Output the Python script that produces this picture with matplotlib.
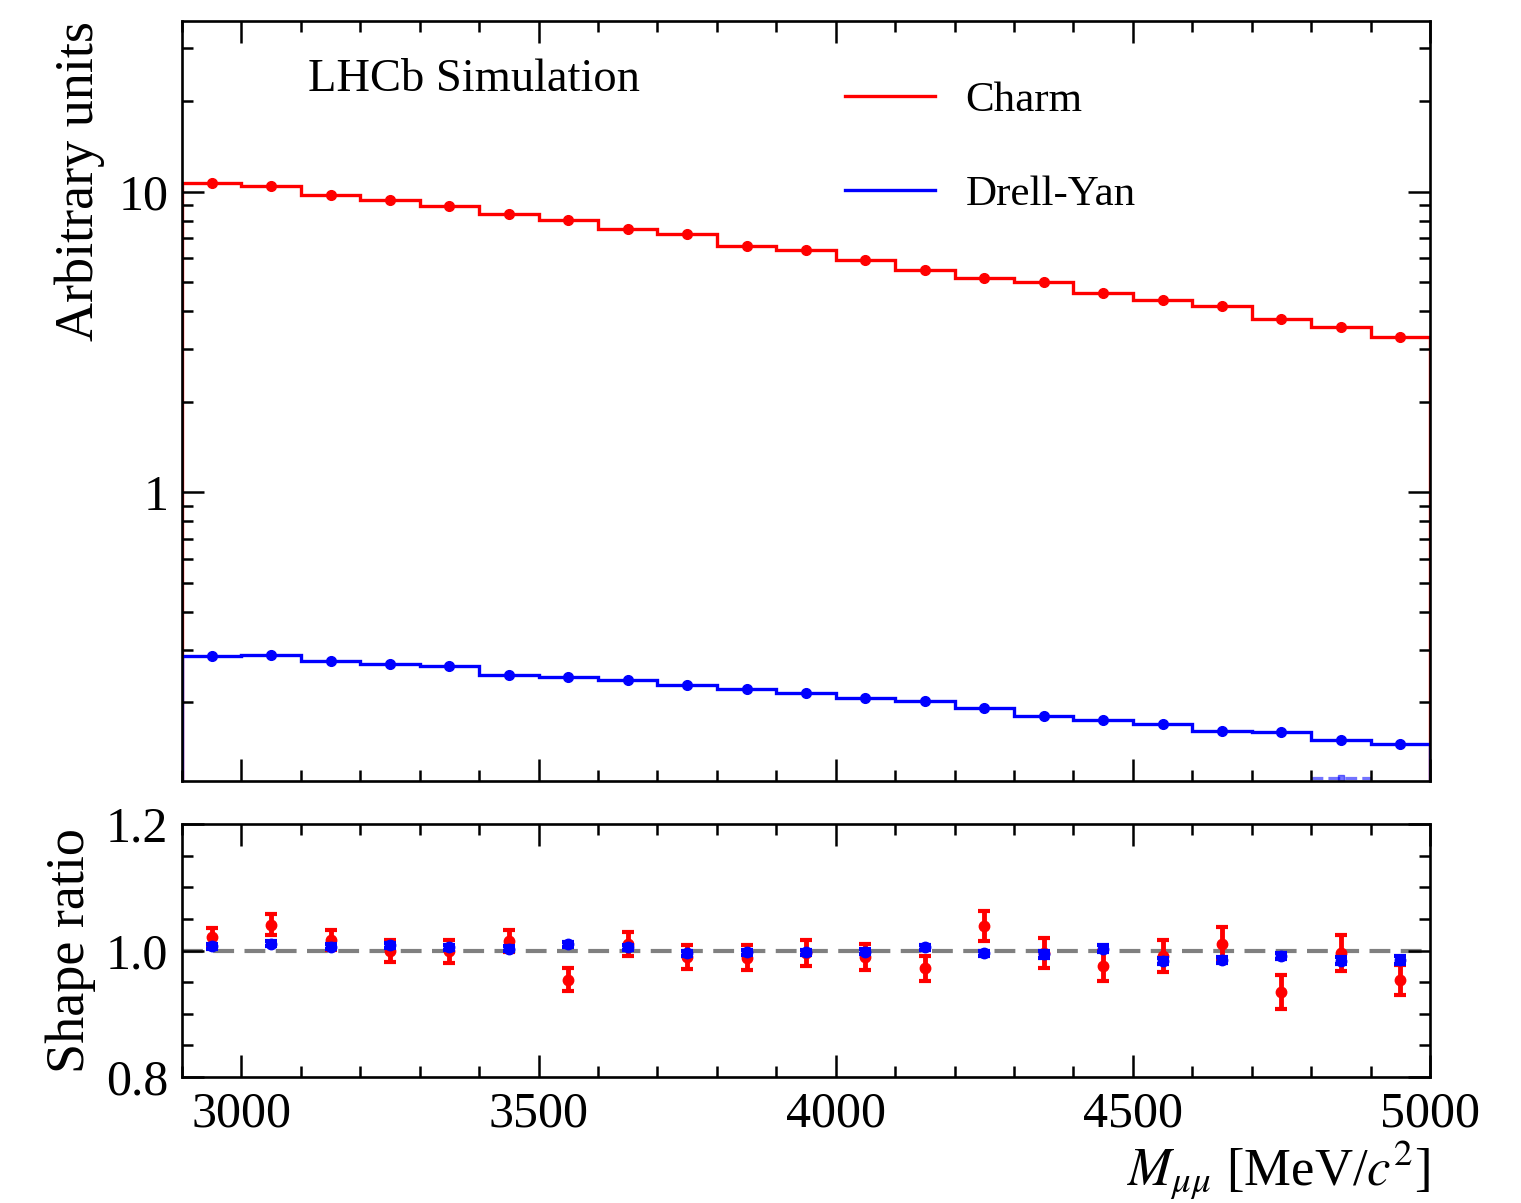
import numpy as np
import matplotlib
matplotlib.use("Agg")
import matplotlib.pyplot as plt
from matplotlib.ticker import MultipleLocator, LogLocator, FuncFormatter, NullFormatter, FixedLocator
from matplotlib.lines import Line2D

plt.rcParams['font.family'] = ['Liberation Serif', 'DejaVu Serif']
plt.rcParams['mathtext.fontset'] = 'stix'
plt.rcParams['font.size'] = 36

# bins in M_mumu [MeV/c^2]
bin_edges = np.arange(2900, 5100, 100)
bin_centres = 0.5 * (bin_edges[1:] + bin_edges[:-1])

# normalised shapes (top panel)
charm = [10.71, 10.45, 9.76, 9.36, 8.98, 8.41, 8.05, 7.50, 7.25, 6.60, 6.40,
         5.93, 5.50, 5.18, 5.01, 4.59, 4.36, 4.18, 3.76, 3.54, 3.29]
drell_yan = [0.2847, 0.2875, 0.2754, 0.2684, 0.2644, 0.2461, 0.2429, 0.2374,
             0.2280, 0.2212, 0.2155, 0.2064, 0.2026, 0.1920, 0.1806, 0.1748,
             0.1699, 0.1610, 0.1590, 0.1500, 0.1450]
# faint dashed curve that only pokes above the axis floor in one bin
dy_alt_edges = [4800, 4900]
dy_alt = [0.1125]

# shape ratios (bottom panel)
ratio_charm = [1.021, 1.041, 1.017, 0.999, 0.999, 1.015, 0.954, 1.011, 0.990,
               0.989, 0.996, 0.990, 0.972, 1.039, 0.996, 0.976, 0.991, 1.011,
               0.934, 0.996, 0.953]
err_charm = [0.015, 0.016, 0.016, 0.017, 0.018, 0.018, 0.018, 0.019, 0.019,
             0.020, 0.020, 0.021, 0.020, 0.024, 0.024, 0.024, 0.025, 0.026,
             0.027, 0.028, 0.024]
ratio_dy = [1.007, 1.011, 1.006, 1.008, 1.005, 1.003, 1.010, 1.005, 0.996,
            0.997, 0.997, 0.998, 1.005, 0.996, 0.994, 1.003, 0.983, 0.985,
            0.991, 0.984, 0.985]
err_dy = [0.004, 0.004, 0.004, 0.004, 0.004, 0.004, 0.004, 0.004, 0.004,
          0.004, 0.004, 0.004, 0.004, 0.004, 0.005, 0.005, 0.005, 0.005,
          0.005, 0.006, 0.006]

fig = plt.figure(figsize=(15.21, 12.03), dpi=100)
ax = fig.add_axes([0.1197, 0.3508, 0.8205, 0.6318])
ax2 = fig.add_axes([0.1197, 0.1047, 0.8205, 0.2103])

# top panel
ax.stairs(charm, bin_edges, color='red', lw=2.4, baseline=1e-3)
ax.plot(bin_centres, charm, 'o', color='red', ms=7)
ax.stairs(drell_yan, bin_edges, color='blue', lw=2.4, baseline=1e-3)
ax.plot(bin_centres, drell_yan, 'o', color='blue', ms=7)
ax.stairs(dy_alt, dy_alt_edges, color='blue', lw=2.3, ls='--', alpha=0.55, baseline=None)
ax.plot([4850], dy_alt, 's', color='blue', ms=5, alpha=0.55)

ax.set_yscale('log')
ax.set_xlim(2900, 5000)
ax.set_ylim(0.1096, 37)
ax.yaxis.set_major_locator(FixedLocator([0.1, 1, 10]))
ax.yaxis.set_major_formatter(FuncFormatter(lambda v, p: '%g' % v))
ax.yaxis.set_minor_locator(LogLocator(base=10, subs=np.arange(2, 10)))
ax.yaxis.set_minor_formatter(NullFormatter())
ax.xaxis.set_major_locator(MultipleLocator(500))
ax.xaxis.set_minor_locator(MultipleLocator(100))
ax.tick_params(labelbottom=False)
ax.set_ylabel('Arbitrary units', fontsize=39, loc='top')
ax.yaxis.set_label_coords(-0.062, 1.0)

ax.text(0.101, 0.922, 'LHCb Simulation', transform=ax.transAxes,
        ha='left', va='center', fontsize=33.5)

handles = [Line2D([], [], color='red', lw=2.4), Line2D([], [], color='blue', lw=2.4)]
ax.legend(handles, ['Charm', 'Drell-Yan'], loc='upper left',
          bbox_to_anchor=(0.531, 0.921), frameon=False, fontsize=31,
          borderpad=0, borderaxespad=0, handlelength=2.1,
          handletextpad=0.7, labelspacing=1.28)

# ratio panel
ax2.axhline(1.0, color='grey', lw=3, ls=(0, (5, 2.5)), zorder=1)
ax2.errorbar(bin_centres, ratio_charm, yerr=err_charm, fmt='o', color='red',
             ms=7.5, elinewidth=3.5, capsize=4, capthick=3, zorder=2)
ax2.errorbar(bin_centres, ratio_dy, yerr=err_dy, fmt='o', color='blue',
             ms=7.5, elinewidth=3.5, capsize=4, capthick=3, zorder=3)
ax2.set_xlim(2900, 5000)
ax2.set_ylim(0.8, 1.2)
ax2.yaxis.set_major_locator(FixedLocator([0.8, 1.0, 1.2]))
ax2.yaxis.set_major_formatter(FuncFormatter(lambda v, p: '%.1f' % v))
ax2.yaxis.set_minor_locator(MultipleLocator(0.05))
ax2.xaxis.set_major_locator(MultipleLocator(500))
ax2.xaxis.set_minor_locator(MultipleLocator(100))
ax2.set_ylabel('Shape ratio', fontsize=39)
ax2.yaxis.set_label_coords(-0.069, 0.5)
ax2.set_xlabel(r'$M_{\mu\mu}$ [MeV/$c^2$]', fontsize=38, loc='right', labelpad=1)

for a in (ax, ax2):
    a.tick_params(which='both', direction='in', top=True, right=True, width=1.8)
    a.tick_params(which='major', length=16, pad=10, labelsize=36)
    a.tick_params(which='minor', length=8)
    for s in a.spines.values():
        s.set_linewidth(1.9)

fig.savefig('out.png', dpi=100)
